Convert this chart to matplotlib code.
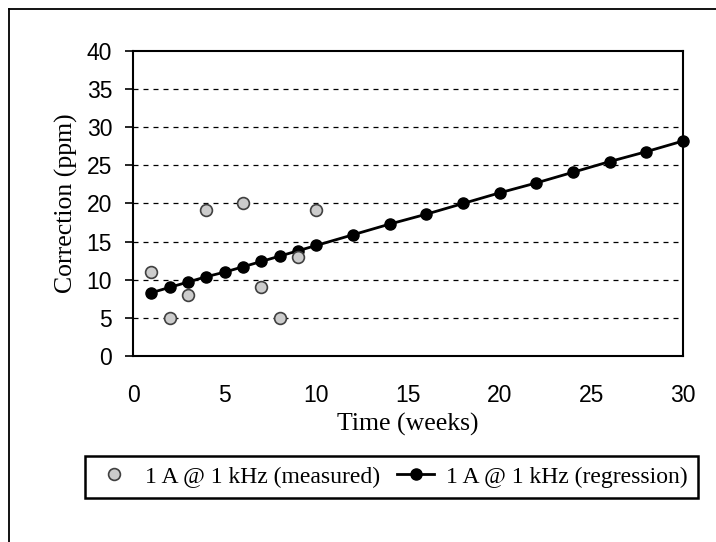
import matplotlib
matplotlib.use("Agg")
import matplotlib.pyplot as plt
from matplotlib.lines import Line2D

# measured corrections (weeks, ppm)
weeks_measured = [1, 2, 3, 4, 6, 7, 8, 9, 10]
ppm_measured = [11.0, 5.0, 8.0, 19.2, 20.1, 9.0, 5.0, 13.0, 19.1]

# regression line points
weeks_regr = [1, 2, 3, 4, 5, 6, 7, 8, 9, 10, 12, 14, 16, 18, 20, 22, 24, 26, 28, 30]
ppm_regr = [8.3, 9.0, 9.7, 10.4, 11.0, 11.7, 12.4, 13.1, 13.8, 14.5,
            15.9, 17.3, 18.6, 20.0, 21.4, 22.7, 24.1, 25.5, 26.8, 28.2]

x_ticks = [0, 5, 10, 15, 20, 25, 30]
y_ticks = [0, 5, 10, 15, 20, 25, 30, 35, 40]

SANS = "Liberation Sans"
SERIF = "Liberation Serif"

fig = plt.figure(figsize=(7.16, 5.42), dpi=100)
ax = fig.add_axes([0.1858, 0.3432, 0.7682, 0.5627])

# outer frame (top and left only, as in the scan)
fig.add_artist(Line2D([0.0126, 1.0], [0.983, 0.983], transform=fig.transFigure,
                      color="black", lw=1.3))
fig.add_artist(Line2D([0.0126, 0.0126], [0.0, 0.983], transform=fig.transFigure,
                      color="black", lw=1.3))

for y in y_ticks[1:-1]:
    ax.axhline(y, color="black", lw=0.9, ls=(0, (4, 4)), zorder=1)

ax.plot(weeks_regr, ppm_regr, color="black", lw=2, marker="o", ms=8,
        zorder=3, label="1 A @ 1 kHz (regression)", clip_on=False)
ax.plot(weeks_measured, ppm_measured, ls="none", marker="o", ms=8.5,
        mfc="#cccccc", mec="#404040", mew=1.2, zorder=4,
        label="1 A @ 1 kHz (measured)")

ax.set_xlim(0, 30)
ax.set_ylim(0, 40)
ax.set_xticks(x_ticks)
ax.set_yticks(y_ticks)
ax.tick_params(axis="y", direction="out", length=6, width=1.2, pad=9, labelsize=16.5)
ax.tick_params(axis="x", length=0, pad=20, labelsize=16.5)
for lab in ax.get_xticklabels() + ax.get_yticklabels():
    lab.set_fontfamily(SANS)
for sp in ax.spines.values():
    sp.set_linewidth(1.5)

ax.set_xlabel("Time (weeks)", fontsize=18.5, fontfamily=SERIF)
ax.xaxis.set_label_coords(0.5, -0.185)
ax.set_ylabel("Correction (ppm)", fontsize=18.5, fontfamily=SERIF)
ax.yaxis.set_label_coords(-0.1, 0.5)

handles, labels = ax.get_legend_handles_labels()
leg = fig.legend(handles[::-1], labels[::-1], loc="center",
                 bbox_to_anchor=(0.547, 0.12), ncol=2, fancybox=False,
                 edgecolor="black", framealpha=1, handlelength=1.6,
                 columnspacing=0.7, handletextpad=0.5, borderpad=0.45,
                 prop={"family": SERIF, "size": 17})
leg.get_frame().set_linewidth(1.8)

fig.savefig("out.png", dpi=100)
